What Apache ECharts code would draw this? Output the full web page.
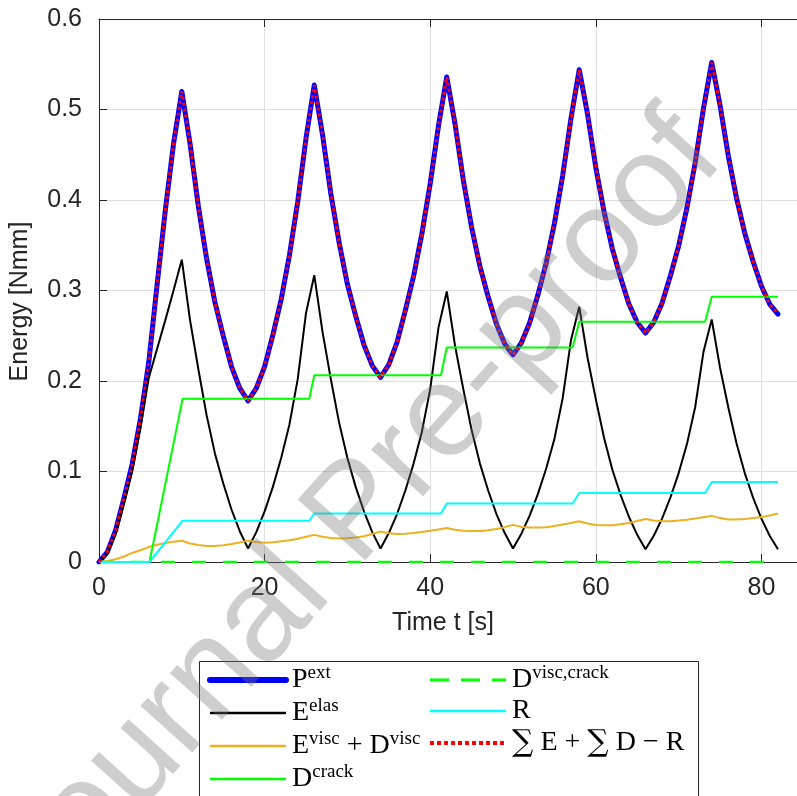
<!DOCTYPE html>
<html>
<head>
<meta charset="utf-8">
<script src="https://cdn.jsdelivr.net/npm/echarts@6/dist/echarts.min.js"></script>
<style>
html, body { margin: 0; padding: 0; background: #fff; }
#main { width: 797px; height: 796px; }
</style>
</head>
<body>
<div id="main"></div>
<script>
// time grid [s]
var timeS = [0, 1, 2, 3, 4, 5, 6, 7, 8, 9, 10, 11, 12, 13, 14, 15, 16, 17, 18, 19, 20,
    21, 22, 23, 24, 25, 26, 27, 28, 29, 30, 31, 32, 33, 34, 35, 36, 37, 38, 39, 40,
    41, 42, 43, 44, 45, 46, 47, 48, 49, 50, 51, 52, 53, 54, 55, 56, 57, 58, 59, 60,
    61, 62, 63, 64, 65, 66, 67, 68, 69, 70, 71, 72, 73, 74, 75, 76, 77, 78, 79, 80,
    81, 82];

// P^ext
var pExt = [0, 0.011, 0.035, 0.07, 0.108, 0.158, 0.22, 0.305, 0.388, 0.462, 0.520,
    0.462, 0.393, 0.335, 0.287, 0.250, 0.216, 0.192, 0.178,
    0.192, 0.216, 0.251, 0.290, 0.339, 0.398, 0.468, 0.527,
    0.472, 0.407, 0.353, 0.307, 0.272, 0.240, 0.217, 0.204,
    0.218, 0.243, 0.278, 0.316, 0.363, 0.418, 0.482, 0.536,
    0.484, 0.422, 0.370, 0.327, 0.293, 0.263, 0.241, 0.229,
    0.242, 0.264, 0.295, 0.330, 0.374, 0.427, 0.490, 0.544,
    0.495, 0.436, 0.387, 0.346, 0.314, 0.285, 0.265, 0.253,
    0.265, 0.286, 0.316, 0.349, 0.391, 0.441, 0.501, 0.552,
    0.505, 0.449, 0.402, 0.363, 0.332, 0.305, 0.285, 0.274];

// E^elas
var eElas = [0, 0.009, 0.031, 0.064, 0.100, 0.148, 0.203, 0.235, 0.267, 0.300, 0.334,
    0.267, 0.213, 0.162, 0.120, 0.087, 0.058, 0.034, 0.015,
    0.033, 0.056, 0.083, 0.115, 0.152, 0.202, 0.275, 0.317,
    0.254, 0.202, 0.154, 0.115, 0.083, 0.056, 0.033, 0.015,
    0.032, 0.053, 0.079, 0.109, 0.144, 0.191, 0.259, 0.299,
    0.239, 0.191, 0.146, 0.109, 0.079, 0.053, 0.032, 0.015,
    0.031, 0.051, 0.075, 0.103, 0.136, 0.181, 0.245, 0.282,
    0.226, 0.180, 0.137, 0.102, 0.074, 0.050, 0.030, 0.014,
    0.029, 0.048, 0.071, 0.098, 0.130, 0.171, 0.232, 0.268,
    0.215, 0.171, 0.131, 0.098, 0.071, 0.048, 0.029, 0.014];

// E^visc + D^visc
var eViscDvisc = [0, 0.001, 0.003, 0.006, 0.010, 0.013, 0.0165, 0.019, 0.021, 0.0225, 0.0235,
    0.0205, 0.0188, 0.0178, 0.0178, 0.0185, 0.0198, 0.0215, 0.0236,
    0.022, 0.0214, 0.0217, 0.0228, 0.024, 0.0258, 0.0278, 0.030,
    0.0278, 0.0265, 0.026, 0.0262, 0.027, 0.0285, 0.031, 0.0336,
    0.0318, 0.031, 0.0312, 0.032, 0.0332, 0.0345, 0.036, 0.0376,
    0.0356, 0.0346, 0.0342, 0.0343, 0.035, 0.0365, 0.0385, 0.041,
    0.0388, 0.038, 0.038, 0.0385, 0.0398, 0.0415, 0.0432, 0.045,
    0.0425, 0.041, 0.0405, 0.0407, 0.0417, 0.0432, 0.0452, 0.0475,
    0.0458, 0.045, 0.045, 0.0458, 0.0468, 0.048, 0.0495, 0.051,
    0.0485, 0.047, 0.047, 0.0475, 0.0485, 0.0498, 0.0515, 0.0535];

// sum E + sum D - R lies on top of P^ext
var sumEDR = pExt;

// D^crack and R are piecewise (steps)
var stepT = [0, 6.1, 10.1, 25.4, 26.0, 41.3, 42.0, 57.2, 58.0, 73.2, 74.0, 82];
var dCrack = [0, 0, 0.1805, 0.1805, 0.2063, 0.2063, 0.237, 0.237, 0.2654, 0.2654, 0.293, 0.293];
var rVal = [0, 0, 0.0457, 0.0457, 0.0535, 0.0535, 0.0647, 0.0647, 0.0762, 0.0762, 0.0884, 0.0884];

// D^visc,crack stays zero
var dViscT = [0, 82];
var dViscCrack = [0, 0];

function pairs(xs, ys) {
    return xs.map(function (x, i) { return [x, ys[i]]; });
}

var legendText = {
    'Pext': '{m|P}{s|ext}',
    'Eelas': '{m|E}{s|elas}',
    'EviscDvisc': '{m|E}{s|visc}{m| + D}{s|visc}',
    'Dcrack': '{m|D}{s|crack}',
    'DviscCrack': '{m|D}{s|visc,crack}',
    'R': '{m|R}',
    'Sum': '{b|\u2211}{m| E + }{b|\u2211}{m| D \u2212 R}'
};

var legendRich = {
    m: { fontFamily: 'Liberation Serif', fontSize: 28, lineHeight: 32, color: '#000' },
    b: { fontFamily: 'DejaVu Serif', fontSize: 30, lineHeight: 32, color: '#000' },
    s: { fontFamily: 'Liberation Serif', fontSize: 19, verticalAlign: 'top', color: '#000' }
};

function legendBase(left, items) {
    return {
        orient: 'vertical',
        left: left,
        top: 664,
        padding: 0,
        itemWidth: 76,
        itemHeight: 14,
        itemGap: 3,
        selectedMode: false,
        itemStyle: { opacity: 0, color: 'transparent', borderWidth: 0 },
        data: items,
        formatter: function (n) { return legendText[n]; },
        textStyle: { rich: legendRich, padding: [0, 0, 0, 1] }
    };
}

var axisCol = '#262626';
var font = 'Liberation Sans';

var chart = echarts.init(document.getElementById('main'));

var option = {
    animation: false,
    backgroundColor: '#fff',
    grid: { left: 99, top: 19, width: 700, height: 543 },
    xAxis: [{
        type: 'value', min: 0, max: 84.3, interval: 20,
        name: 'Time t [s]', nameLocation: 'middle', nameGap: 49,
        nameTextStyle: { fontFamily: font, fontSize: 25, color: axisCol, padding: [0, 10, 0, 0] },
        axisLine: { show: true, lineStyle: { color: axisCol, width: 1 } },
        axisTick: { inside: true, length: 8, lineStyle: { color: axisCol } },
        axisLabel: { margin: 14, fontFamily: font, fontSize: 25, color: axisCol, showMaxLabel: false },
        splitLine: { show: true, lineStyle: { color: '#e0e0e0', width: 1 } }
    }, {
        type: 'value', position: 'top', min: 0, max: 84.3, interval: 20,
        axisLine: { show: true, lineStyle: { color: axisCol, width: 1 } },
        axisTick: { inside: true, length: 8, lineStyle: { color: axisCol } },
        axisLabel: { show: false },
        splitLine: { show: false }
    }],
    yAxis: {
        type: 'value', min: 0, max: 0.6, interval: 0.1,
        name: 'Energy [Nmm]', nameLocation: 'middle', nameGap: 66,
        nameTextStyle: { fontFamily: font, fontSize: 25, color: axisCol, padding: [0, 22, 0, 0] },
        axisLine: { show: true, lineStyle: { color: axisCol, width: 1 } },
        axisTick: { inside: true, length: 8, lineStyle: { color: axisCol } },
        axisLabel: { margin: 17, fontFamily: font, fontSize: 25, color: axisCol },
        splitLine: { show: true, lineStyle: { color: '#e0e0e0', width: 1 } }
    },
    legend: [
        legendBase(207, [
            { name: 'Pext', lineStyle: { width: 6 } },
            { name: 'Eelas', lineStyle: { width: 2.5 } },
            { name: 'EviscDvisc', lineStyle: { width: 2.5 } },
            { name: 'Dcrack', lineStyle: { width: 2.5 } }
        ]),
        legendBase(428, [
            { name: 'DviscCrack', lineStyle: { width: 3, type: [19, 12] } },
            { name: 'R', lineStyle: { width: 2.5 } },
            { name: 'Sum', lineStyle: { width: 4, type: [4, 3] } }
        ])
    ],
    graphic: [{
        type: 'rect', z: 1,
        shape: { x: 199.5, y: 661.5, width: 499, height: 200 },
        style: { fill: '#fff', stroke: axisCol, lineWidth: 1 }
    }, {
        type: 'text', z: 100, x: 358, y: 514,
        rotation: 48 * Math.PI / 180,
        style: {
            text: 'Journal Pre-proof', font: '132px "Liberation Sans"',
            fill: 'rgba(120,120,120,0.36)', textAlign: 'center', textVerticalAlign: 'middle'
        }
    }],
    series: [{
        name: 'Pext', type: 'line', data: pairs(timeS, pExt), showSymbol: false, symbol: 'none',
        lineStyle: { color: '#0000ff', width: 5, cap: 'round', join: 'round' }, itemStyle: { color: '#0000ff' }
    }, {
        name: 'Eelas', type: 'line', data: pairs(timeS, eElas), showSymbol: false, symbol: 'none',
        lineStyle: { color: '#000000', width: 2 }, itemStyle: { color: '#000000' }
    }, {
        name: 'EviscDvisc', type: 'line', data: pairs(timeS, eViscDvisc), showSymbol: false, symbol: 'none',
        lineStyle: { color: '#edb120', width: 2 }, itemStyle: { color: '#edb120' }
    }, {
        name: 'Dcrack', type: 'line', data: pairs(stepT, dCrack), showSymbol: false, symbol: 'none',
        lineStyle: { color: '#00ff00', width: 2 }, itemStyle: { color: '#00ff00' }
    }, {
        name: 'DviscCrack', type: 'line', data: pairs(dViscT, dViscCrack), showSymbol: false, symbol: 'none',
        lineStyle: { color: '#00ff00', width: 2.5, type: [14, 17] }, itemStyle: { color: '#00ff00' }
    }, {
        name: 'R', type: 'line', data: pairs(stepT, rVal), showSymbol: false, symbol: 'none',
        lineStyle: { color: '#00ffff', width: 2 }, itemStyle: { color: '#00ffff' }
    }, {
        name: 'Sum', type: 'line', data: pairs(timeS, sumEDR), showSymbol: false, symbol: 'none',
        lineStyle: { color: '#ff0000', width: 3, type: [3, 3] }, itemStyle: { color: '#ff0000' }
    }]
};

chart.setOption(option);
</script>
</body>
</html>
